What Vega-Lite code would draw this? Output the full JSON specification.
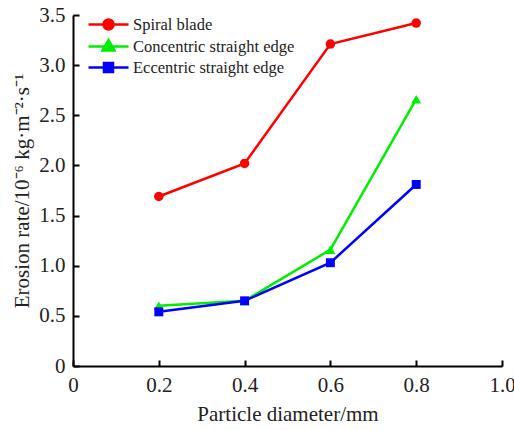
{
  "$schema": "https://vega.github.io/schema/vega-lite/v6.json",
  "width": 429,
  "height": 351,
  "autosize": {"type": "none"},
  "padding": {"left": 73, "top": 15, "right": 12, "bottom": 64},
  "background": "white",
  "config": {
    "view": {"stroke": null},
    "font": "Liberation Serif",
    "axis": {
      "domainColor": "black",
      "domainWidth": 2,
      "tickColor": "black",
      "tickWidth": 2,
      "tickSize": -6,
      "labelFont": "Liberation Serif",
      "labelFontSize": 21,
      "labelColor": "#222",
      "titleFont": "Liberation Serif",
      "titleFontSize": 21,
      "titleFontWeight": "normal",
      "titleColor": "#222",
      "grid": false
    }
  },
  "data": {
    "values": [
      {"series": "Spiral blade", "d": 0.2, "rate": 1.69},
      {"series": "Spiral blade", "d": 0.4, "rate": 2.02},
      {"series": "Spiral blade", "d": 0.6, "rate": 3.21},
      {"series": "Spiral blade", "d": 0.8, "rate": 3.42},
      {"series": "Concentric straight edge", "d": 0.2, "rate": 0.6},
      {"series": "Concentric straight edge", "d": 0.4, "rate": 0.65},
      {"series": "Concentric straight edge", "d": 0.6, "rate": 1.16},
      {"series": "Concentric straight edge", "d": 0.8, "rate": 2.66},
      {"series": "Eccentric straight edge", "d": 0.2, "rate": 0.54},
      {"series": "Eccentric straight edge", "d": 0.4, "rate": 0.65},
      {"series": "Eccentric straight edge", "d": 0.6, "rate": 1.03},
      {"series": "Eccentric straight edge", "d": 0.8, "rate": 1.81}
    ]
  },
  "encoding": {
    "x": {
      "field": "d", "type": "quantitative",
      "scale": {"domain": [0, 1], "nice": false},
      "axis": {"values": [0, 0.2, 0.4, 0.6, 0.8, 1.0], "labelExpr": "datum.value === 0 ? '0' : format(datum.value, '.1f')", "title": "Particle diameter/mm", "labelPadding": 14, "titlePadding": 8, "labelFlush": false}
    },
    "y": {
      "field": "rate", "type": "quantitative",
      "scale": {"domain": [0, 3.5], "nice": false},
      "axis": {"values": [0, 0.5, 1, 1.5, 2, 2.5, 3, 3.5], "labelExpr": "datum.value === 0 ? '0' : format(datum.value, '.1f')", "title": "Erosion rate/10⁻⁶ kg·m⁻²·s⁻¹", "labelPadding": 14, "titlePadding": 6, "labelFlush": false}
    },
    "color": {
      "field": "series", "type": "nominal",
      "scale": {"domain": ["Spiral blade", "Concentric straight edge", "Eccentric straight edge"], "range": ["#ff0000", "#00ee00", "#0000ff"]},
      "legend": {
        "title": null,
        "orient": "none",
        "legendX": 24,
        "legendY": -2,
        "labelFont": "Liberation Serif",
        "labelFontSize": 16.5,
        "labelColor": "#222",
        "labelLimit": 0,
        "symbolSize": 400,
        "labelOffset": 13,
        "rowPadding": -1,
        "encode": {
          "symbols": {
            "update": {
              "shape": {"signal": "datum.value === 'Spiral blade' ? 'M-2,0H2M-0.5,0A0.5,0.5,0,1,0,0.5,0A0.5,0.5,0,1,0,-0.5,0Z' : datum.value === 'Concentric straight edge' ? 'M-2,0H2M0,-0.64L0.6,0.4L-0.6,0.4Z' : 'M-2,0H2M-0.45,-0.45H0.45V0.45H-0.45Z'"},
              "fill": {"signal": "datum.value === 'Spiral blade' ? '#ff0000' : datum.value === 'Concentric straight edge' ? '#00ee00' : '#0000ff'"},
              "stroke": {"signal": "datum.value === 'Spiral blade' ? '#ff0000' : datum.value === 'Concentric straight edge' ? '#00ee00' : '#0000ff'"},
              "strokeWidth": {"value": 2.5},
              "opacity": {"value": 1},
              "fillOpacity": {"value": 1}
            }
          }
        }
      }
    }
  },
  "layer": [
    {"mark": {"type": "line", "strokeWidth": 2.5}},
    {
      "transform": [{"filter": "datum.series === 'Spiral blade'"}],
      "mark": {"type": "point", "shape": "circle", "filled": true, "opacity": 1, "size": 90}
    },
    {
      "transform": [{"filter": "datum.series === 'Concentric straight edge'"}],
      "mark": {"type": "point", "shape": "triangle-up", "filled": true, "opacity": 1, "size": 100}
    },
    {
      "transform": [{"filter": "datum.series === 'Eccentric straight edge'"}],
      "mark": {"type": "point", "shape": "square", "filled": true, "opacity": 1, "size": 80}
    }
  ]
}
